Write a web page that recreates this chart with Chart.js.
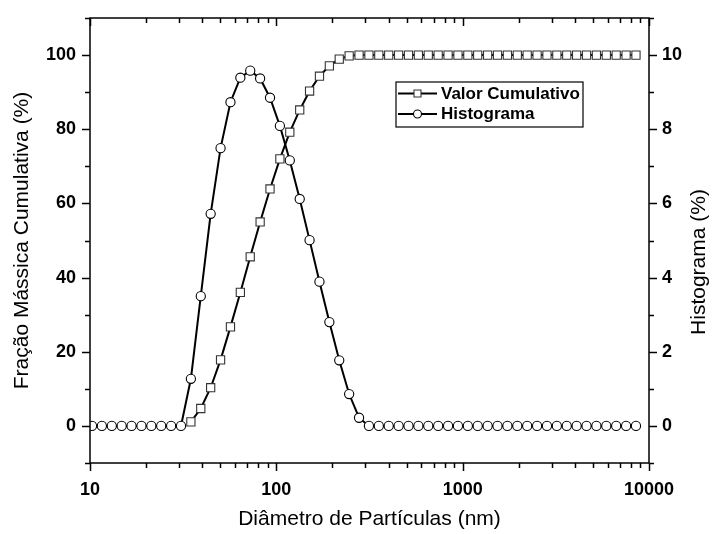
<!DOCTYPE html>
<html>
<head>
<meta charset="utf-8">
<script src="https://cdn.jsdelivr.net/npm/chart.js@4.4.1/dist/chart.umd.min.js"></script>
<style>
  html, body { margin: 0; padding: 0; background: #fff; }
  #wrap { width: 713px; height: 534px; }
</style>
</head>
<body>
<div id="wrap"><canvas id="psdChart" width="713" height="534"></canvas></div>
<script>
// ---- data ----
const diameters = [
  10.25, 11.58, 13.09, 14.79, 16.71, 18.89, 21.34, 24.11, 27.25, 30.79,
  34.79, 39.31, 44.42, 50.20, 56.73, 64.10, 72.43, 81.85, 92.49, 104.5,
  118.1, 133.5, 150.8, 170.4, 192.6, 217.6, 245.9, 277.9, 314.0, 354.8,
  400.9, 453.1, 512.0, 578.5, 653.7, 738.7, 834.8, 943.3, 1066, 1204,
  1361, 1538, 1738, 1964, 2219, 2508, 2834, 3202, 3619, 4089,
  4621, 5221, 5900, 6667, 7534, 8513
];
const cumulative = [
  null, null, null, null, null, null, null, null, null, null,
  1.1, 4.7, 10.3, 17.8, 26.7, 36.0, 45.6, 55.0, 63.9, 72.0,
  79.2, 85.2, 90.3, 94.3, 97.1, 98.9, 99.8, 100, 100, 100,
  100, 100, 100, 100, 100, 100, 100, 100, 100, 100,
  100, 100, 100, 100, 100, 100, 100, 100, 100, 100,
  100, 100, 100, 100, 100, 100
];
const histogram = [
  0, 0, 0, 0, 0, 0, 0, 0, 0, 0,
  1.27, 3.50, 5.72, 7.49, 8.73, 9.39, 9.58, 9.37, 8.85, 8.09,
  7.16, 6.12, 5.01, 3.89, 2.80, 1.77, 0.86, 0.22, 0, 0,
  0, 0, 0, 0, 0, 0, 0, 0, 0, 0,
  0, 0, 0, 0, 0, 0, 0, 0, 0, 0,
  0, 0, 0, 0, 0, 0
];
const xTickLabels = [10, 100, 1000, 10000];
const xMinorTicks = [20, 30, 40, 50, 60, 70, 80, 90, 200, 300, 400, 500, 600, 700, 800, 900,
  2000, 3000, 4000, 5000, 6000, 7000, 8000, 9000];
const leftTicks = [0, 20, 40, 60, 80, 100];
const leftMinorTicks = [-10, 10, 30, 50, 70, 90, 110];
const rightTicks = [0, 2, 4, 6, 8, 10];
const rightMinorTicks = [-1, 1, 3, 5, 7, 9, 11];

const seriesNames = ['Valor Cumulativo', 'Histograma'];
const FONT = "'Liberation Sans', Arial, sans-serif";

// ---- frame, tick marks, legend and right title (Origin look) ----
const originFrame = {
    id: 'originFrame',
    afterDraw(chart) {
        const { ctx, chartArea: a, scales } = chart;
        const x = scales.x, yl = scales.yL, yr = scales.yR;
        ctx.save();
        ctx.strokeStyle = '#000';
        ctx.lineWidth = 1.5;
        ctx.strokeRect(a.left, a.top, a.right - a.left, a.bottom - a.top);

        ctx.beginPath();
        const xt = (vals, len) => vals.forEach(v => {
            const px = Math.round(x.getPixelForValue(v)) + 0.5;
            ctx.moveTo(px, a.bottom); ctx.lineTo(px, a.bottom + len);
            ctx.moveTo(px, a.top); ctx.lineTo(px, a.top + len);
        });
        xt(xTickLabels, 8);
        xt(xMinorTicks, 5);
        const lt = (vals, len) => vals.forEach(v => {
            const py = Math.round(yl.getPixelForValue(v)) + 0.5;
            ctx.moveTo(a.left, py); ctx.lineTo(a.left - len, py);
        });
        lt(leftTicks, 8);
        lt(leftMinorTicks, 5);
        const rt = (vals, len) => vals.forEach(v => {
            const py = Math.round(yr.getPixelForValue(v)) + 0.5;
            ctx.moveTo(a.right, py); ctx.lineTo(a.right + len, py);
        });
        rt(rightTicks, 8);
        rt(rightMinorTicks, 5);
        ctx.stroke();

        // right axis title, reads bottom to top
        ctx.save();
        ctx.translate(699, 262);
        ctx.rotate(-Math.PI / 2);
        ctx.fillStyle = '#000';
        ctx.font = '21px ' + FONT;
        ctx.textAlign = 'center';
        ctx.textBaseline = 'middle';
        ctx.fillText('Histograma (%)', 0, 0);
        ctx.restore();

        // legend box
        const lx = 396, ly = 82, lw = 187, lh = 45;
        ctx.lineWidth = 1.2;
        ctx.strokeRect(lx, ly, lw, lh);
        const rows = [ly + 11.5, ly + 32];
        ctx.font = 'bold 17px ' + FONT;
        ctx.textAlign = 'left';
        ctx.textBaseline = 'middle';
        rows.forEach((ry, i) => {
            ctx.beginPath();
            ctx.lineWidth = 2;
            ctx.moveTo(lx + 2, ry); ctx.lineTo(lx + 41, ry);
            ctx.stroke();
            ctx.lineWidth = 1.1;
            ctx.fillStyle = '#fff';
            ctx.beginPath();
            if (i === 0) {
                ctx.rect(lx + 18, ry - 3.5, 7, 7);
            } else {
                ctx.arc(lx + 21.5, ry, 4, 0, Math.PI * 2);
            }
            ctx.fill();
            ctx.strokeStyle = i === 0 ? '#333' : '#000';
            ctx.stroke();
            ctx.strokeStyle = '#000';
            ctx.fillStyle = '#000';
            ctx.fillText(seriesNames[i], lx + 45, ry + 0.5);
        });
        ctx.restore();
    }
};

const ctx = document.getElementById('psdChart').getContext('2d');
new Chart(ctx, {
    type: 'line',
    data: {
        datasets: [
            {
                label: seriesNames[0],
                data: diameters.map((d, i) => ({ x: d, y: cumulative[i] })),
                yAxisID: 'yL',
                order: 1,
                borderColor: '#000',
                borderWidth: 2,
                pointStyle: 'rect',
                pointRadius: 5.8,
                pointBackgroundColor: '#fff',
                pointBorderColor: '#333',
                pointBorderWidth: 1.1,
                tension: 0,
                spanGaps: false
            },
            {
                label: seriesNames[1],
                data: diameters.map((d, i) => ({ x: d, y: histogram[i] })),
                yAxisID: 'yR',
                order: 0,
                borderColor: '#000',
                borderWidth: 2,
                pointStyle: 'circle',
                pointRadius: 4.6,
                pointBackgroundColor: '#fff',
                pointBorderColor: '#000',
                pointBorderWidth: 1.1,
                tension: 0
            }
        ]
    },
    options: {
        responsive: false,
        animation: false,
        layout: { padding: { top: 18, left: 0, right: 0, bottom: 0 } },
        plugins: { legend: { display: false }, tooltip: { enabled: false } },
        scales: {
            x: {
                type: 'logarithmic',
                position: 'bottom',
                min: 10,
                max: 10000,
                grid: { display: false, drawTicks: false },
                border: { display: false },
                afterBuildTicks: s => { s.ticks = xTickLabels.map(v => ({ value: v })); },
                afterFit: s => { s.height = 71; s.paddingLeft = 0; s.paddingRight = 0; },
                ticks: {
                    autoSkip: false, maxRotation: 0, padding: 16, color: '#000',
                    font: { family: FONT, size: 18, weight: 'bold' },
                    callback: v => String(v)
                },
                title: {
                    display: true, text: 'Diâmetro de Partículas (nm)', color: '#000',
                    font: { family: FONT, size: 21 }, padding: { top: 0, bottom: 2 }
                }
            },
            yL: {
                type: 'linear',
                position: 'left',
                min: -10,
                max: 110,
                grid: { display: false, drawTicks: false },
                border: { display: false },
                afterBuildTicks: s => { s.ticks = leftTicks.map(v => ({ value: v })); },
                afterFit: s => { s.width = 90; s.paddingTop = 0; s.paddingBottom = 0; },
                ticks: {
                    padding: 14, color: '#000',
                    font: { family: FONT, size: 18, weight: 'bold' }
                },
                title: {
                    display: true, text: 'Fração Mássica Cumulativa (%)', color: '#000',
                    font: { family: FONT, size: 21 }, padding: { top: 10, bottom: 0 }
                }
            },
            yR: {
                type: 'linear',
                position: 'right',
                min: -1,
                max: 11,
                grid: { display: false, drawTicks: false },
                border: { display: false },
                afterBuildTicks: s => { s.ticks = rightTicks.map(v => ({ value: v })); },
                afterFit: s => { s.width = 64; s.paddingTop = 0; s.paddingBottom = 0; },
                ticks: {
                    padding: 13, color: '#000',
                    font: { family: FONT, size: 18, weight: 'bold' }
                }
            }
        }
    },
    plugins: [originFrame]
});
</script>
</body>
</html>
